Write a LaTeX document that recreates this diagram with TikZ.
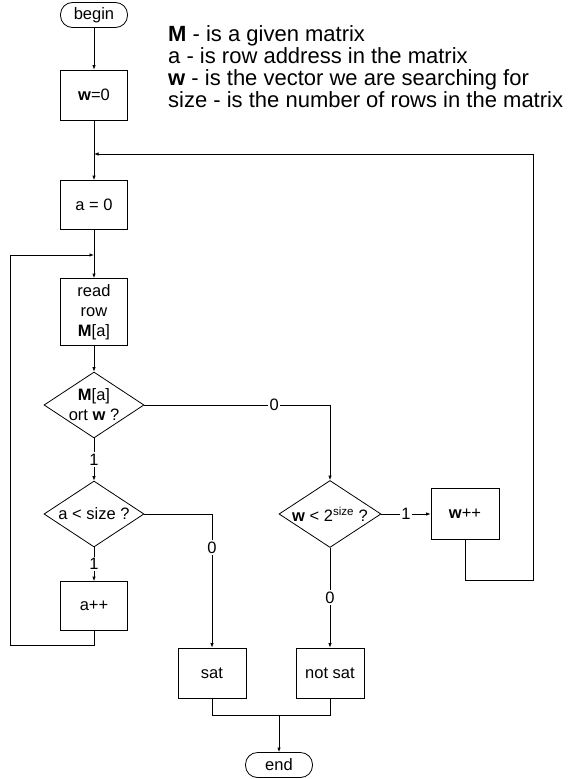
\documentclass[tikz,border=0pt]{standalone}
\usepackage{fontspec}
\setmainfont{Liberation Sans}
\usetikzlibrary{shapes.geometric,arrows.meta}
\begin{document}
\begin{tikzpicture}[x=1pt,y=-1pt,
  every node/.style={font=\fontsize{16.5}{20}\selectfont, inner sep=0pt},
  box/.style={draw, thick, minimum width=67pt, minimum height=50pt, align=center},
  term/.style={draw, thick, rounded corners=12pt, minimum width=67pt, minimum height=25pt},
  dec/.style={draw, thick, diamond, aspect=1.5, minimum width=100pt, minimum height=66pt, align=center, inner sep=0pt},
  lbl/.style={fill=white, inner sep=1.5pt},
  conn/.style={draw, thick},
  arr/.style={draw, thick, -{Latex[length=4.5pt,width=3.5pt]}},
  legend/.style={anchor=base west, font=\fontsize{22}{22}\selectfont}
]
\useasboundingbox (0,0) rectangle (574,779);
% nodes
\node[term] (begin) at (94,15) {begin};
\node[box] (w0) at (94,95) {\textbf{w}=0};
\node[box, minimum height=49pt] (a0) at (94,205) {a = 0};
\node[box, minimum height=67pt] (read) at (94,312) {read\\row\\\textbf{M}[a]};
\node[dec] (d1) at (94,405) {\textbf{M}[a]\\ort \textbf{w} ?};
\node[dec] (d2) at (94,514) {a < size ?};
\node[box, minimum height=49pt] (app) at (94,606) {a++};
\node[dec, minimum width=102pt, minimum height=67pt] (d3) at (330,514) {\textbf{w} < 2\textsuperscript{size} ?};
\node[box, minimum width=68pt, minimum height=51pt] (wpp) at (465,514) {\textbf{w}++};
\node[box, minimum width=68pt] (sat) at (212,673) {sat};
\node[box, minimum width=68pt] (notsat) at (330,673) {not sat};
\node[term] (end) at (279,765) {end};
% legend
\node[legend] (l1) at (168,41) {\textbf{M} - is a given matrix};
\node[legend] (l2) at (168,63) {a - is row address in the matrix};
\node[legend] (l3) at (168,85) {\textbf{w} - is the vector we are searching for};
\node[legend] (l4) at (168,107) {size - is the number of rows in the matrix};
% coordinates
\coordinate (j1) at (94,154);
\coordinate (j2) at (94,255);
\coordinate (f1) at (465,580);
\coordinate (f2) at (533,580);
\coordinate (f3) at (533,154);
\coordinate (g1) at (94,645);
\coordinate (g2) at (10,645);
\coordinate (g3) at (10,255);
\coordinate (h1) at (212,514);
\coordinate (k1) at (330,405);
\coordinate (m1) at (212,715);
\coordinate (m2) at (330,715);
\coordinate (mj) at (279,715);
% connectors
\path[arr] (begin) -- (w0);
\path[arr] (w0) -- (a0);
\path[arr] (wpp.south) -- (f1) -- (f2) -- (f3) -- (j1);
\path[arr] (a0) -- (read);
\path[arr] (app.south) -- (g1) -- (g2) -- (g3) -- (j2);
\path[arr] (read) -- (d1);
\path[arr] (d1.south) -- node[lbl] (t1) {1} (d2.north);
\path[arr] (d2.south) -- node[lbl] (t2) {1} (app.north);
\path[arr] (d2.east) -- (h1) -- node[lbl, pos=0.25] (t3) {0} (sat.north);
\path[arr] (d1.east) -- node[lbl, pos=0.7] (t4) {0} (k1) -- (d3.north);
\path[arr] (d3.east) -- node[lbl] (t5) {1} (wpp.west);
\path[arr] (d3.south) -- node[lbl] (t6) {0} (notsat.north);
\path[conn] (sat.south) -- (m1) -- (m2) -- (notsat.south);
\path[arr] (mj) -- (end.north);
\end{tikzpicture}
\end{document}
